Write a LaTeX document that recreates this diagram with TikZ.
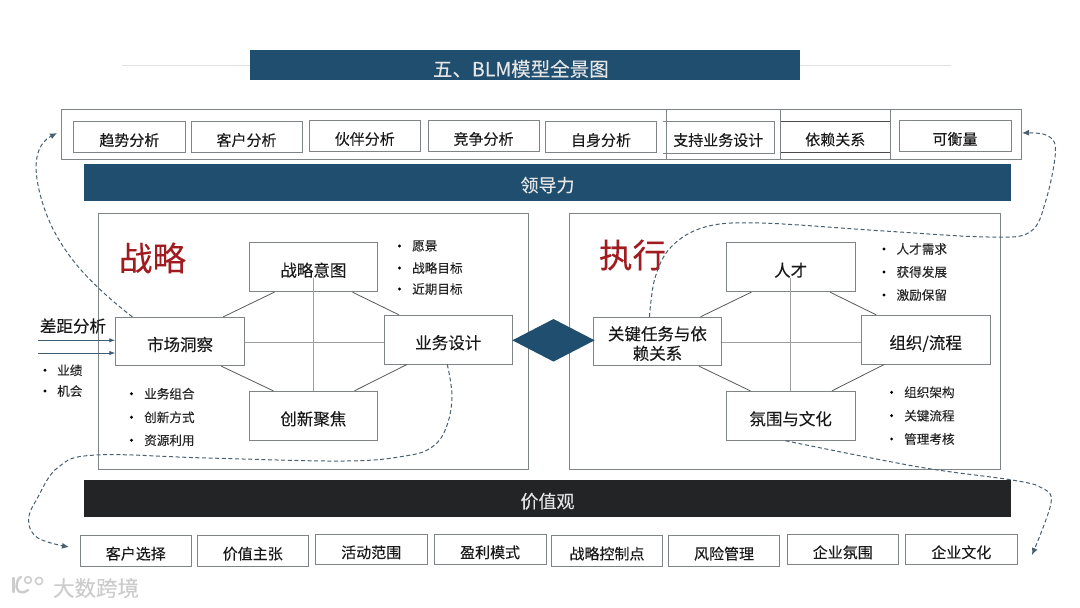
\documentclass[tikz,border=0pt]{standalone}
\usepackage{fontspec}
\setmainfont{Noto Sans CJK SC}[FakeBold=0.15]
\usetikzlibrary{arrows.meta,shapes.geometric}
\definecolor{navy}{HTML}{1F4E6F}
\definecolor{inkbar}{HTML}{222426}
\definecolor{edge}{HTML}{7F8487}
\definecolor{dash}{HTML}{4A5F6E}
\definecolor{redt}{HTML}{A01C20}
\tikzset{
  x=1pt,y=-1pt,
  boxn/.style={draw=edge,line width=.9pt,inner sep=0pt,align=center,text=black!90,text height=20pt,text depth=1.4pt,font=\fontsize{16.5}{19.5}\selectfont},
  tagbox/.style={boxn,text height=18.4pt,text depth=1pt,font=\fontsize{15}{18}\selectfont},
  panel/.style={draw=edge,line width=.9pt,inner sep=0pt},
  bar/.style={inner sep=0pt,text=white!90!black,text height=19.5pt,text depth=1pt,font=\fontsize{18}{20}\selectfont},
  bul/.style={anchor=west,inner sep=0pt,text=black!85,font=\fontsize{12.6}{15}\selectfont},
  dotn/.style={circle,fill=black,inner sep=0pt,minimum size=3.2pt},
  hex/.style={draw=black!65,line width=.8pt},
  cross/.style={draw=black!38,line width=.6pt},
  dashc/.style={draw=dash,line width=1pt,dash pattern=on 4pt off 2.6pt,-{Latex[length=7pt,width=6pt]}},
  feed/.style={draw=navy!70!gray,line width=.9pt,-{Latex[length=6pt,width=4.5pt]}},
  big/.style={inner sep=0pt,text=redt,font=\fontsize{33.5}{36}\selectfont},
  logo/.style={draw=black!20,line width=2.4pt,line cap=round}
}
\newcommand{\bx}[7][boxn]{\node[#1,minimum width={#4-#2},minimum height={#5-#3}] (#6) at ({(#2+#4)/2},{(#3+#5)/2}) {#7};}
\newcommand{\bl}[5]{\node[dotn] (#1d) at (#2,#4) {}; \node[bul] (#1) at (#3,#4) {#5};}
\begin{document}
\begin{tikzpicture}
\useasboundingbox (0,0) rectangle (1080,608);
% title
\coordinate (tl) at (122,65); \coordinate (tr) at (951,65);
\draw[black!12,line width=.6pt] (tl) -- (tr);
\bx[bar,fill=navy,text height=23.8pt,text depth=1pt,font=\fontsize{19.5}{22}\selectfont]{249.7}{49.5}{800}{80.3}{title}{五、BLM模型全景图\hspace*{8pt}}
% top container
\bx[panel]{61.3}{109.5}{1021}{159}{outer}{}
\bx[tagbox]{73.7}{121.7}{185}{152.5}{t1}{趋势分析}
\bx[tagbox]{191}{121.7}{302}{152.5}{t2}{客户分析}
\bx[tagbox]{309}{120.5}{420.5}{151.5}{t3}{伙伴分析}
\bx[tagbox]{428}{120.5}{539}{151.5}{t4}{竞争分析}
\bx[tagbox]{545.5}{121.7}{656.5}{152.5}{t5}{自身分析}
\bx[tagbox,draw=none]{663}{121.7}{773.5}{152.5}{t6}{支持业务设计}
\bx[tagbox,draw=none]{780}{121.5}{890.5}{151.5}{t7}{依赖关系}
\bx[tagbox]{899}{120.5}{1011}{151.5}{t8}{可衡量}
\draw[edge,line width=.9pt] (t6.north west) -- (t6.north east) -- (t6.south east) -- (t6.south west);
\draw[black!70,line width=.8pt] (t7.north west) -- (t7.north east) (t7.south west) -- (t7.south east);
\foreach \i/\xx in {a/666.4,b/780,c/890.5}{
  \coordinate (dv\i) at (\xx,159);
  \draw[edge,line width=.9pt] (dv\i) -- (\xx,109.5);
}
% bars
\bx[bar,fill=navy]{84}{164}{1011}{201.3}{lead}{领导力}
\bx[bar,fill=inkbar]{84}{480.3}{1011}{517.3}{vals}{价值观}
% panels
\bx[panel]{98}{213.7}{528.5}{469}{pa}{}
\bx[panel]{569.6}{213.7}{1000.4}{469}{pb}{}
\node[big] (ra) at (152.5,258) {战略};
\node[big] (rb) at (632.5,255) {执行};
% left group boxes
\bx{249.3}{242.7}{377.5}{291.7}{a1}{战略意图}
\bx{115.7}{317.3}{244.5}{365.7}{a2}{市场洞察}
\bx{384}{315.3}{512.5}{364}{a3}{业务设计}
\bx{249.3}{391.3}{377.5}{440.3}{a4}{创新聚焦}
\draw[cross,shorten <=-14pt] (a1.south) -- (a4.north);
\draw[cross] (a2.east |- 0,342.3) -- (a3.west |- 0,342.3);
\draw[hex] ([xshift=25.5pt]a1.south west) -- ([xshift=108pt]a2.north west);
\draw[hex] ([xshift=-25.5pt]a1.south east) -- ([xshift=15.4pt]a3.north west);
\draw[hex] ([xshift=106pt]a2.south west) -- ([xshift=24.5pt]a4.north west);
\draw[hex] ([xshift=23.4pt]a3.south west) -- ([xshift=-23.5pt]a4.north east);
% right group boxes
\bx{726.3}{242.7}{855}{291.7}{b1}{人才}
\bx[boxn,text height=37.2pt,text depth=1pt]{593.4}{317.3}{721.5}{365.7}{b2}{关键任务与依\\赖关系}
\bx{861.3}{315.3}{990}{364}{b3}{组织/流程}
\bx{726.3}{391.3}{855}{440.3}{b4}{氛围与文化}
\draw[cross,shorten <=-14pt] (b1.south) -- (b4.north);
\draw[cross] (b2.east |- 0,342.3) -- (b3.west |- 0,342.3);
\draw[hex] ([xshift=25.5pt]b1.south west) -- ([xshift=107.5pt]b2.north west);
\draw[hex] ([xshift=-25.5pt]b1.south east) -- ([xshift=15.4pt]b3.north west);
\draw[hex] ([xshift=106pt]b2.south west) -- ([xshift=24.5pt]b4.north west);
\draw[hex] ([xshift=23.4pt]b3.south west) -- ([xshift=-23.5pt]b4.north east);
% diamond
\node[diamond,fill=navy,inner sep=0pt,minimum width=82.4pt,minimum height=42.7pt,aspect=1.93] (dm) at (553.5,340.3) {};
% gap
\node[inner sep=0pt,text=black!90,font=\fontsize{16.5}{20}\selectfont] (gap) at (73,326) {差距分析};
\coordinate (f1) at (38,340.3); \coordinate (f2) at (38,353);
\draw[feed] (f1) -- (a2.west |- f1);
\draw[feed] (f2) -- (a2.west |- f2);
% bullets
\bl{g1}{45}{57}{370.3}{业绩}
\bl{g2}{45}{57}{391}{机会}
\bl{c1}{399.5}{412}{246}{愿景}
\bl{c2}{399.5}{412}{268}{战略目标}
\bl{c3}{399.5}{412}{289}{近期目标}
\bl{d1}{131.5}{144}{393.7}{业务组合}
\bl{d2}{131.5}{144}{417.3}{创新方式}
\bl{d3}{131.5}{144}{440.3}{资源利用}
\bl{e1}{884}{896.4}{249}{人才需求}
\bl{e2}{884}{896.4}{272}{获得发展}
\bl{e3}{884}{896.4}{295}{激励保留}
\bl{h1}{891.6}{904}{392.3}{组织架构}
\bl{h2}{891.6}{904}{415.7}{关键流程}
\bl{h3}{891.6}{904}{439}{管理考核}
% bottom row
\bx[tagbox]{80}{535.3}{191.5}{566}{u1}{客户选择}
\bx[tagbox]{197}{535.3}{308.5}{566}{u2}{价值主张}
\bx[tagbox]{315.5}{534}{427}{564.7}{u3}{活动范围}
\bx[tagbox]{434.2}{534}{546}{564.7}{u4}{盈利模式}
\bx[tagbox]{551.4}{535.3}{662.6}{566}{u5}{战略控制点}
\bx[tagbox]{668.4}{535.3}{779.7}{566}{u6}{风险管理}
\bx[tagbox]{787}{534}{898.5}{564.7}{u7}{企业氛围}
\bx[tagbox]{905.7}{534}{1017}{564.7}{u8}{企业文化}
% dashed connectors
\coordinate (s1) at ([xshift=17pt]a2.north west);
\coordinate (s2) at ([xshift=56.5pt]b2.north west);
\coordinate (s3) at ([xshift=63.7pt]a3.south west);
\coordinate (s4) at ([xshift=59.7pt]b4.south west);
\coordinate (e1) at (57,133);
\coordinate (e2) at (1022,133);
\coordinate (e3) at (69,547);
\coordinate (e4) at (1032,555);
\draw[dashc] (s1) .. controls (88,282) and (50,245) .. (38,185) .. controls (33,160) and (38,143) .. (e1);
\draw[dashc] plot[smooth,tension=.6] coordinates {(s2) (655,278) (671,247) (705,227) (760,223) (884,231) (988,237) (1030,232) (1046,200) (1055.5,150) (1046,135) (e2)};
\draw[dashc] plot[smooth,tension=.65] coordinates {(s3) (452,397) (446,428) (432,447) (405,456) (344,461) (207,458) (96,455) (58.5,467) (38,497) (28.6,520) (38,538) (e3)};
\draw[dashc] plot[smooth,tension=.6] coordinates {(s4) (919,467) (1012,480) (1042,488) (1051,503) (e4)};
% watermark
\draw[logo] (13.5,578) -- (13.5,592);
\draw[logo] (28,590) .. controls (20,596) and (15,590) .. (17,583) .. controls (18,579) and (19,578) .. (21,577);
\draw[logo,line width=1.5pt] (28,580) circle[radius=3.4pt] (39,581) circle[radius=3.6pt];
\node[inner sep=0pt,text=black!20,font=\fontsize{21.5}{24}\selectfont] (wm) at (96,588) {大数跨境};
\end{tikzpicture}
\end{document}
